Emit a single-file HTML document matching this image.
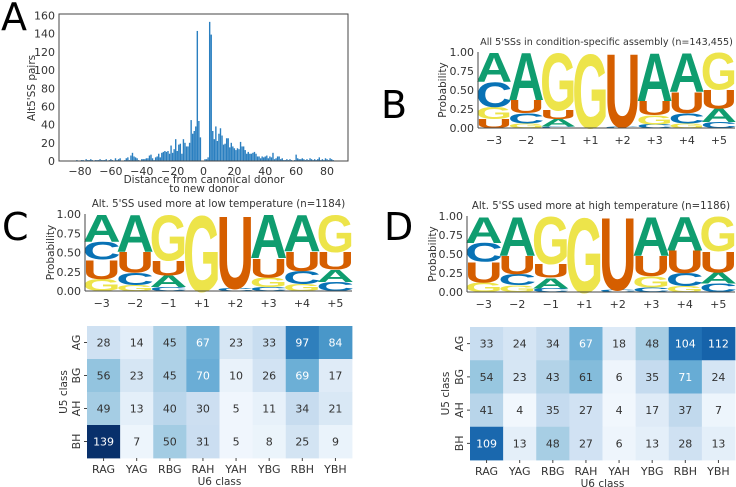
<!DOCTYPE html>
<html><head><meta charset="utf-8"><style>
body{margin:0;background:#fff;}
svg{display:block;font-family:"DejaVu Sans","Liberation Sans",sans-serif;}
</style></head><body>
<svg id="fig" width="736" height="487" viewBox="0 0 736 487" xmlns="http://www.w3.org/2000/svg">
<text x="1" y="30" font-size="38">A</text>
<text x="381" y="118" font-size="38">B</text>
<text x="2" y="240" font-size="38">C</text>
<text x="384" y="240" font-size="38">D</text>
<g id="gA"></g>
<g id="gB"></g>
<g id="gC"></g>
<g id="gD"></g>
<g id="hC"></g>
<g id="hD"></g>
</svg>
<script>
// ---- Panel A data ----
const histStart = -85;
const histValues = [
0,0,0,1,0,0,1,1,0,2,
1,1,2,1,0,1,1,1,2,1,
1,1,2,0,1,2,1,0,3,1,
2,3,0,0,1,3,4,1,6,9,
5,4,3,1,0,2,2,2,3,3,
6,7,3,1,4,5,8,4,9,10,
11,10,11,8,17,9,13,24,11,18,
19,8,24,20,16,16,20,45,30,33,
38,143,44,26,0,
0,2,2,4,153,139,33,24,38,22,30,
36,28,18,19,25,25,15,20,16,14,
12,14,13,21,16,16,12,8,10,8,
8,9,10,8,5,5,3,5,4,5,
6,3,5,4,9,2,3,5,5,2,
3,1,1,2,1,2,1,0,1,7,
3,2,2,3,2,1,2,1,3,2,
1,2,1,2,4,1,2,1,3,2,
1,3,2,1,0];
const histXTicks = [-80,-60,-40,-20,0,20,40,60,80];
const histYTicks = [0,20,40,60,80,100,120,140,160];

// ---- Logo data (bottom-up stacks per position) ----
const logoPositions = ["\u22123","\u22122","\u22121","+1","+2","+3","+4","+5"];
const logoTicks = ["0.00","0.25","0.50","0.75","1.00"];
const logoAll = [
 [["U",.12],["G",.16],["C",.33],["A",.39]],
 [["G",.06],["C",.14],["U",.17],["A",.63]],
 [["C",.02],["A",.10],["U",.12],["G",.76]],
 [["U",.01],["G",.99]],
 [["C",.02],["U",.98]],
 [["C",.05],["G",.12],["U",.19],["A",.64]],
 [["G",.06],["C",.14],["U",.28],["A",.52]],
 [["C",.08],["A",.18],["U",.25],["G",.49]]];
const logoLow = [
 [["G",.16],["U",.25],["C",.23],["A",.36]],
 [["G",.08],["C",.16],["U",.27],["A",.49]],
 [["C",.05],["A",.15],["U",.20],["G",.60]],
 [["G",1.0]],
 [["C",.04],["U",.96]],
 [["C",.05],["G",.13],["U",.25],["A",.57]],
 [["G",.09],["C",.17],["U",.26],["A",.48]],
 [["C",.12],["A",.16],["U",.23],["G",.49]]];
const logoHigh = [
 [["G",.13],["U",.27],["C",.25],["A",.35]],
 [["G",.09],["C",.15],["U",.24],["A",.52]],
 [["C",.05],["A",.14],["U",.18],["G",.63]],
 [["G",1.0]],
 [["C",.03],["U",.97]],
 [["C",.06],["G",.15],["U",.27],["A",.52]],
 [["G",.08],["C",.17],["U",.30],["A",.45]],
 [["C",.11],["A",.15],["U",.28],["G",.46]]];

// ---- Heatmap data ----
const u6Classes = ["RAG","YAG","RBG","RAH","YAH","YBG","RBH","YBH"];
const u5Classes = ["AG","BG","AH","BH"];
const heatLow = [
 [28,14,45,67,23,33,97,84],
 [56,23,45,70,10,26,69,17],
 [49,13,40,30,5,11,34,21],
 [139,7,50,31,5,8,25,9]];
const heatHigh = [
 [33,24,34,67,18,48,104,112],
 [54,23,43,61,6,35,71,24],
 [41,4,35,27,4,17,37,7],
 [109,13,48,27,6,13,28,13]];

const NS="http://www.w3.org/2000/svg";
function mk(parent,tag,attrs,text){const e=document.createElementNS(NS,tag);for(const k in attrs)e.setAttribute(k,attrs[k]);if(text!==undefined)e.textContent=text;parent.appendChild(e);return e;}
const AX="#444", TXT="#333";

// ---- Panel A ----
(function(){
 const g=document.getElementById('gA');
 const L=59,R=348,T=14,B=161;
 const xs=v=>203.5+v*1.544;
 const ys=v=>B-v*(145.5/160);
 histValues.forEach((v,i)=>{
  const d=histStart+i;
  const r=mk(g,'rect',{x:xs(d)-0.7,y:ys(v),width:1.4,height:B-ys(v),fill:'#2a7fc0'});
  
  
 });
 mk(g,'rect',{x:L,y:T,width:R-L,height:B-T,fill:'none',stroke:AX,'stroke-width':1});
 histXTicks.forEach(t=>{
  const tx=mk(g,'text',{x:xs(t),y:175,'font-size':11,'text-anchor':'middle',fill:TXT},(t<0?'\u2212'+(-t):''+t));
  
  
 });
 histYTicks.forEach(t=>{
  const tx=mk(g,'text',{x:55,y:ys(t)+4,'font-size':11,'text-anchor':'end',fill:TXT},''+t);
  
  
 });
 let t1=mk(g,'text',{x:204,y:183,'font-size':10.5,'text-anchor':'middle',fill:TXT},'Distance from canonical donor');
 
 mk(g,'text',{x:204,y:192,'font-size':10.5,'text-anchor':'middle',fill:TXT},'to new donor');
 let t2=mk(g,'text',{x:0,y:0,'font-size':10.5,'text-anchor':'middle',fill:TXT,transform:'translate(35,88) rotate(-90)'},"Alt5'SS pairs");
 
})();

// ---- Logos ----
const COL={A:'#0f9d6f',C:'#0872b5',G:'#ede44a',U:'#d55e00'};
function logo(gid,data,L,R,T,B,title,ylabX,tsize){
 const g=document.getElementById(gid);
 const w=(R-L)/data.length;
 const ys=p=>B-p*(B-T);
 data.forEach((stack,i)=>{
  let acc=0;
  stack.forEach(([ch,h])=>{
   const yb=ys(acc), yt=ys(acc+h); acc+=h;
   const hh=yb-yt; if(hh<0.3) return;
   const sx=w/62, sy=hh/71;
   const t=mk(g,'text',{x:0,y:0,'font-size':100,'font-family':'Liberation Sans, sans-serif','font-weight':'bold',fill:COL[ch],textLength:70,lengthAdjust:'spacingAndGlyphs',transform:`translate(${L+i*w-4*sx},${yb+0.5*sy}) scale(${sx},${sy})`},ch);
   
   
  });
  const tl=mk(g,'text',{x:L+(i+0.5)*w,y:B+16,'font-size':11,'text-anchor':'middle',fill:TXT},logoPositions[i]);
  
  
 });
 mk(g,'line',{x1:L,y1:T,x2:L,y2:B,stroke:AX,'stroke-width':1});
 mk(g,'line',{x1:L,y1:B,x2:R,y2:B,stroke:AX,'stroke-width':1});
 logoTicks.forEach((t,i)=>{
  const tx=mk(g,'text',{x:L-4,y:ys(i*0.25)+4,'font-size':11,'text-anchor':'end',fill:TXT},t);
  
  
 });
 const tt=mk(g,'text',{x:(L+R)/2,y:T-7,'font-size':tsize,'text-anchor':'middle',fill:TXT},title);
 
 const yl=mk(g,'text',{x:0,y:0,'font-size':10.5,'text-anchor':'middle',fill:TXT,transform:`translate(${ylabX},${(T+B)/2}) rotate(-90)`},'Probability');
 
}
logo('gB',logoAll,478,735,52,128,"All 5'SSs in condition-specific assembly (n=143,455)",446,9.6);
logo('gC',logoLow,85,352,214,291,"Alt. 5'SS used more at low temperature (n=1184)",54,10.2);
logo('gD',logoHigh,467,735,216,292,"Alt. 5'SS used more at high temperature (n=1186)",436,10.2);

// ---- Heatmaps ----
const BLUES=['#f7fbff','#deebf7','#c6dbef','#9ecae1','#6baed6','#4292c6','#2171b5','#08519c','#08306b'];
function blues(t){t=Math.max(0,Math.min(1,t))*8;const i=Math.min(7,Math.floor(t)),f=t-i;
 const a=BLUES[i],b=BLUES[i+1];const c=k=>Math.round(parseInt(a.substr(k,2),16)*(1-f)+parseInt(b.substr(k,2),16)*f);
 return `rgb(${c(1)},${c(3)},${c(5)})`;}
function heat(gid,data,L,R,T,B,ylabX){
 const g=document.getElementById(gid);
 const cw=(R-L)/u6Classes.length, ch=(B-T)/u5Classes.length, vmax=139;
 data.forEach((row,r)=>row.forEach((v,c)=>{
  const rc=mk(g,'rect',{x:L+c*cw,y:T+r*ch,width:cw+0.4,height:ch+0.4,fill:blues(v/vmax)});
  
  
  const tx=mk(g,'text',{x:L+(c+0.5)*cw,y:T+(r+0.5)*ch+4,'font-size':11,'text-anchor':'middle',fill:v>63?'#fff':'#333'},''+v);
  
  
 }));
 u6Classes.forEach((n,c)=>{
  const x=L+(c+0.5)*cw;
  mk(g,'line',{x1:x,y1:B,x2:x,y2:B+3,stroke:AX});
  const tx=mk(g,'text',{x:x,y:B+15,'font-size':11,'text-anchor':'middle',fill:TXT},n);
  
  
 });
 u5Classes.forEach((n,r)=>{
  const y=T+(r+0.5)*ch;
  mk(g,'line',{x1:L-3,y1:y,x2:L,y2:y,stroke:AX});
  const tx=mk(g,'text',{x:0,y:0,'font-size':11,'text-anchor':'middle',fill:TXT,transform:`translate(${L-7},${y}) rotate(-90)`},n);
  
  
 });
 const xl=mk(g,'text',{x:(L+R)/2,y:B+27,'font-size':10.5,'text-anchor':'middle',fill:TXT},'U6 class');
 
 const yl=mk(g,'text',{x:0,y:0,'font-size':10.5,'text-anchor':'middle',fill:TXT,transform:`translate(${ylabX},${(T+B)/2}) rotate(-90)`},'U5 class');
 
}
heat('hC',heatLow,87,352,326,458,67);
heat('hD',heatHigh,470,735,327,460,449);
</script>
</body></html>
